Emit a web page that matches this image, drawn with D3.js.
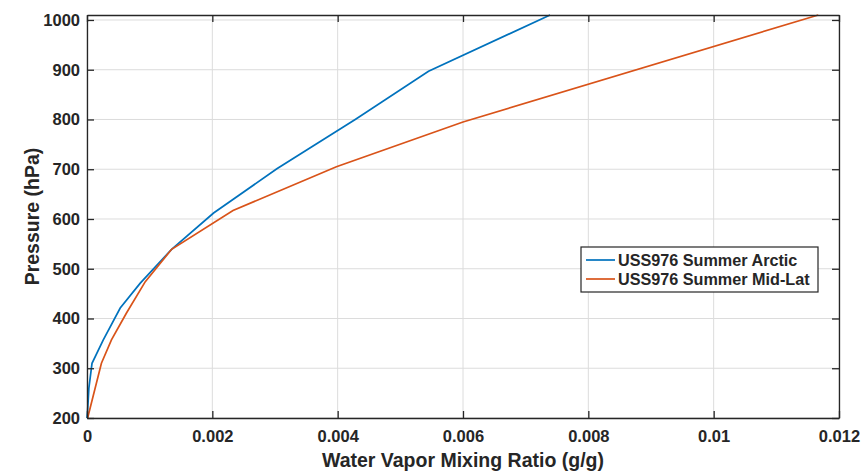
<!DOCTYPE html>
<html>
<head>
<meta charset="utf-8">
<script src="https://cdn.jsdelivr.net/npm/d3@7"></script>
<style>
    body { margin: 0; background: #fff; }
    svg text { font-family: "Liberation Sans", Arial, sans-serif; font-weight: bold; fill: #262626; }
</style>
</head>
<body>
<svg id="chart"></svg>
<script>
    // values
    var arcticMixing = [0, 0.00001, 0.00003, 0.00008, 0.00026, 0.00053, 0.00085, 0.00135, 0.00202, 0.00303, 0.00428, 0.00545, 0.00739];
    var arcticPressure = [200, 215, 260, 310, 357, 421, 471, 539, 612, 701, 800, 897, 1010];
    var midlatMixing = [0.00001, 0.00023, 0.00039, 0.00063, 0.00093, 0.00135, 0.00233, 0.00398, 0.0060, 0.01167];
    var midlatPressure = [200, 310, 357, 411, 474, 539, 617, 705, 795, 1010];
    var seriesNames = ['USS976 Summer Arctic', 'USS976 Summer Mid-Lat'];
    var seriesColors = ['#0072bd', '#d95319'];
    var xTicks = [0, 0.002, 0.004, 0.006, 0.008, 0.01, 0.012];
    var yTicks = [200, 300, 400, 500, 600, 700, 800, 900, 1000];

    var width = 864, height = 471;
    var margin = { top: 15, right: 25, bottom: 53, left: 87 };
    var innerW = width - margin.left - margin.right;
    var innerH = height - margin.top - margin.bottom;

    var svg = d3.select('#chart')
        .attr('width', width)
        .attr('height', height);

    var g = svg.append('g')
        .attr('transform', 'translate(' + margin.left + ',' + margin.top + ')');

    var x = d3.scaleLinear().domain([0, 0.012]).range([0, innerW]);
    var y = d3.scaleLinear().domain([200, 1010]).range([innerH, 0]);

    // grid
    g.selectAll('.vgrid')
        .data(xTicks)
        .join('line')
        .attr('x1', d => x(d)).attr('x2', d => x(d))
        .attr('y1', 0).attr('y2', innerH)
        .attr('stroke', '#dcdcdc').attr('stroke-width', 1);

    g.selectAll('.hgrid')
        .data(yTicks)
        .join('line')
        .attr('x1', 0).attr('x2', innerW)
        .attr('y1', d => y(d)).attr('y2', d => y(d))
        .attr('stroke', '#dcdcdc').attr('stroke-width', 1);

    var series = [
        arcticMixing.map((v, i) => ({ x: v, p: arcticPressure[i] })),
        midlatMixing.map((v, i) => ({ x: v, p: midlatPressure[i] }))
    ];

    var line = d3.line().x(d => x(d.x)).y(d => y(d.p));

    g.selectAll('.series')
        .data(series)
        .join('path')
        .attr('d', line)
        .attr('fill', 'none')
        .attr('stroke', (d, i) => seriesColors[i])
        .attr('stroke-width', 1.7);

    // axes with inward ticks, on all four sides
    var tickLen = 7;
    g.append('g')
        .attr('transform', 'translate(0,' + innerH + ')')
        .call(d3.axisBottom(x).tickValues(xTicks).tickFormat(d => d === 0 ? '0' : String(+d.toFixed(3))).tickSizeInner(-tickLen).tickSizeOuter(0).tickPadding(12));
    g.append('g')
        .call(d3.axisLeft(y).tickValues(yTicks).tickFormat(d3.format('d')).tickSizeInner(-tickLen).tickSizeOuter(0).tickPadding(7));
    g.append('g')
        .call(d3.axisTop(x).tickValues(xTicks).tickFormat('').tickSizeInner(-tickLen).tickSizeOuter(0));
    g.append('g')
        .attr('transform', 'translate(' + innerW + ',0)')
        .call(d3.axisRight(y).tickValues(yTicks).tickFormat('').tickSizeInner(-tickLen).tickSizeOuter(0));

    g.selectAll('.domain').attr('stroke', '#262626').attr('stroke-width', 1.3);
    g.selectAll('.tick line').attr('stroke', '#262626').attr('stroke-width', 1.3);
    g.selectAll('.tick text').attr('font-size', 16.5).attr('fill', '#262626');

    // axis titles
    svg.append('text')
        .attr('x', margin.left + innerW / 2)
        .attr('y', 467)
        .attr('text-anchor', 'middle')
        .attr('font-size', 19.5)
        .text('Water Vapor Mixing Ratio (g/g)');

    svg.append('text')
        .attr('transform', 'translate(39,' + (margin.top + innerH / 2) + ') rotate(-90)')
        .attr('text-anchor', 'middle')
        .attr('font-size', 19.5)
        .text('Pressure (hPa)');

    // legend
    var legend = svg.append('g').attr('transform', 'translate(581,247)');
    legend.append('rect')
        .attr('width', 237).attr('height', 45)
        .attr('fill', '#fff').attr('stroke', '#262626').attr('stroke-width', 1.2);

    var items = legend.selectAll('.item')
        .data(seriesNames)
        .join('g')
        .attr('transform', (d, i) => 'translate(0,' + (13 + i * 19) + ')');

    items.append('line')
        .attr('x1', 5).attr('x2', 34)
        .attr('y1', 0).attr('y2', 0)
        .attr('stroke', (d, i) => seriesColors[i]).attr('stroke-width', 1.7);

    items.append('text')
        .attr('x', 37)
        .attr('dy', '0.36em')
        .attr('font-size', 16.2)
        .text(d => d);
</script>
</body>
</html>
